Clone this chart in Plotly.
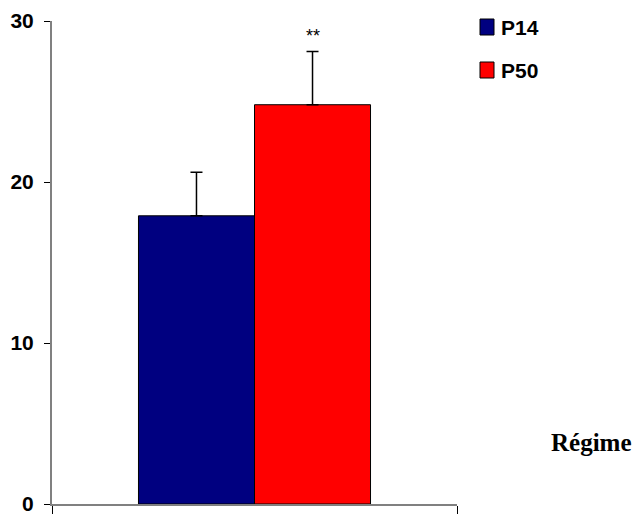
import plotly.graph_objects as go

# ---- data ----
groups = ["P14", "P50"]
values = [17.9, 24.8]
errors_up = [2.7, 3.3]
significance = ["", "**"]
category = ["Régime"]
y_ticks = [0, 10, 20, 30]

colors = ["#000080", "#FF0000"]

W, H = 644, 515
ML, MR, MT, MB = 52, 187, 21, 11
PW = W - ML - MR
PH = H - MT - MB

sans = "Liberation Sans, Arial, sans-serif"
serif = "Liberation Serif, Times New Roman, serif"

fig = go.Figure()
for name, v, e, c in zip(groups, values, errors_up, colors):
    fig.add_trace(go.Bar(
        x=category, y=[v], name=name,
        marker=dict(color=c, line=dict(color="black", width=1)),
        error_y=dict(type="data", symmetric=False, array=[e], arrayminus=[0],
                     color="black", thickness=1.5, width=6),
        showlegend=False,
    ))

# significance markers above error bars
for i, (name, v, e, s) in enumerate(zip(groups, values, errors_up, significance)):
    if s:
        fig.add_annotation(
            x=category[0], y=v + e, text=s, showarrow=False,
            xshift=(i - 0.5) * 116, yanchor="bottom", yshift=4,
            font=dict(family=sans, size=18, color="black"),
        )

# manual legend (squares + labels)
def px_x(p):
    return (p - ML) / PW

def px_y(p):
    return (H - MB - p) / PH

legend_rows = [27, 70]
for name, c, yc in zip(groups, colors, legend_rows):
    fig.add_shape(type="rect", xref="paper", yref="paper",
                  x0=px_x(480), x1=px_x(494), y0=px_y(yc - 8), y1=px_y(yc + 8),
                  fillcolor=c, line=dict(color="black", width=1))
    fig.add_annotation(xref="paper", yref="paper", x=px_x(499), y=px_y(yc),
                       xanchor="left", yanchor="middle", text=f"<b>{name}</b>",
                       showarrow=False,
                       font=dict(family=sans, size=21, color="black"))

# x axis title at right
fig.add_annotation(xref="paper", yref="paper", x=px_x(591), y=px_y(442),
                   xanchor="center", yanchor="middle", text="<b>Régime</b>",
                   showarrow=False, font=dict(family=serif, size=25, color="black"))

fig.update_layout(
    width=W, height=H,
    margin=dict(l=ML, r=MR, t=MT, b=MB, autoexpand=False),
    paper_bgcolor="white", plot_bgcolor="white",
    barmode="group", bargap=0.427, bargroupgap=0,
    xaxis=dict(showticklabels=False, showline=True, linecolor="#808080", linewidth=1.5,
               ticks="outside", tickson="boundaries", ticklen=8, tickcolor="black",
               tickwidth=1, showgrid=False, zeroline=False, automargin=False),
    yaxis=dict(range=[0, 30], tickvals=y_ticks, ticktext=[f"<b>{t}</b>" for t in y_ticks],
               showline=True, linecolor="#808080", linewidth=2,
               ticks="outside", ticklen=6, tickcolor="black", tickwidth=1,
               ticklabelstandoff=6, automargin=False, ticklabeloverflow="allow",
               tickfont=dict(family=sans, size=21, color="black"),
               showgrid=False, zeroline=False),
)

fig.write_html("out.html",
               config={"displayModeBar": False},
               post_script="document.body.style.margin='0';document.body.style.overflow='hidden';")
